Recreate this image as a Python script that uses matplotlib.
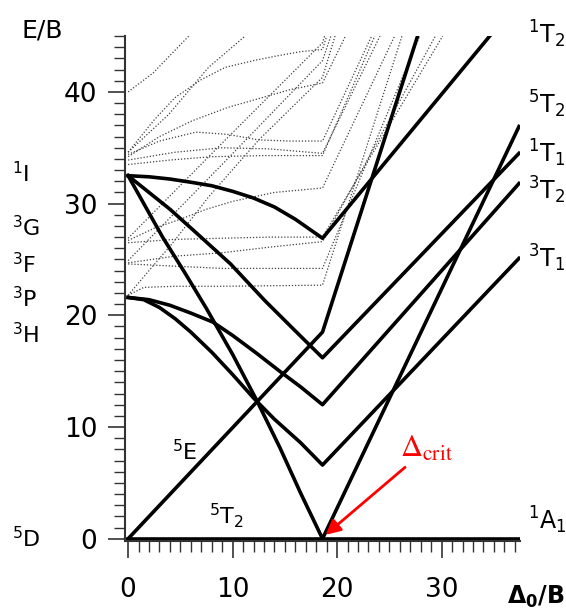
import matplotlib
matplotlib.use('Agg')
import matplotlib.pyplot as plt
from matplotlib.ticker import MultipleLocator
from matplotlib.transforms import blended_transform_factory

# bold states (x = Delta0/B, y = E/B)
gs_x = [0, 37.4]                      # 5T2 / 1A1 ground line
gs_e = [0, 0]

e5_x = [0, 18.6, 27.7]                # 5E, becomes steep after crossover
e5_e = [0, 18.5, 45]

a1_x = [0, 3.3, 5.5, 7.5, 10, 12.3, 14.5, 16.5, 18.6, 37.4]   # 1A1 down, 5T2 up
a1_e = [32.5, 27.0, 23.7, 20.6, 16.5, 12.4, 8.2, 4.1, 0, 36.9]

t12_x = [0, 2, 4, 6.1, 8, 10, 12, 14, 16, 18.6, 34.6]
t12_e = [32.5, 32.4, 32.2, 31.9, 31.6, 31.1, 30.5, 29.7, 28.6, 26.9, 45]

t11_x = [0, 2, 4, 6.5, 9.8, 13.1, 16, 18.6, 37.4]
t11_e = [32.5, 31.0, 29.5, 27.4, 24.6, 21.3, 18.6, 16.2, 34.5]

t32_x = [0, 2, 4, 6, 8.1, 10, 12.3, 14.5, 16.5, 18.6, 37.4]
t32_e = [21.6, 21.4, 20.9, 20.2, 19.4, 18.2, 16.6, 15.0, 13.6, 12.0, 31.8]

t31_x = [0, 1.5, 3, 4.5, 6, 8, 10, 12, 14, 16.5, 18.6, 37.4]
t31_e = [21.6, 21.4, 20.7, 19.7, 18.5, 16.7, 14.7, 12.6, 10.7, 8.6, 6.6, 25.1]

# thin dotted states
dotted_x = [
    [0, 2.4, 5.8],
    [0, 3.9, 7.7, 11.2],
    [0, 2.5, 4.5, 7, 9.3, 12, 14.1, 16.5, 18.6, 19.0],
    [0, 3, 6.1, 9.5, 12.5, 15.5, 18.6, 20.8],
    [0, 3, 6.5, 9.5, 12.5, 15.5, 18.6, 23.3],
    [0, 4.5, 9.0, 13.5, 18.6, 24.1],
    [0, 4, 8.0, 13, 18.6, 23.6],
    [0, 9.3, 18.6, 18.8],
    [0, 9.3, 18.6, 19.4],
    [0, 2, 4.2, 7.7, 12.5, 18.6, 19.8],
    [0, 2.5, 5.0, 7.5, 10.0, 14.0, 18.6, 25.5],
    [0, 4.5, 9.0, 13.5, 18.6, 30.1],
    [0, 4.5, 9.0, 13.5, 18.6, 29.4],
    [0, 4.5, 9.0, 13.5, 18.6, 27.9],
    [0, 1.5, 4.5, 9.0, 18.6, 26.2],
]
dotted_e = [
    [40.0, 41.7, 45],
    [34.6, 38.0, 42.2, 45],
    [34.6, 37.5, 39.5, 41.1, 42.2, 42.8, 43.2, 43.6, 43.8, 45],
    [34.2, 36.0, 37.4, 38.6, 39.4, 40.2, 40.8, 45],
    [34.4, 35.6, 36.4, 36.2, 35.7, 35.6, 35.6, 45],
    [33.9, 34.6, 35.0, 34.9, 34.5, 45],
    [33.5, 33.9, 34.2, 34.3, 34.3, 45],
    [26.9, 35.7, 44.4, 45],
    [24.9, 33.8, 42.8, 45],
    [21.8, 24.0, 26.4, 30.6, 35.7, 41.3, 45],
    [26.7, 27.8, 28.6, 29.5, 30.2, 31.0, 31.4, 45],
    [26.5, 26.8, 26.9, 27.0, 27.0, 45],
    [24.7, 25.3, 25.6, 26.1, 26.6, 45],
    [24.6, 24.4, 24.2, 24.2, 24.2, 45],
    [21.8, 22.5, 22.6, 22.6, 22.7, 45],
]

free_ion_terms = [r'$^{1}\mathrm{I}$', r'$^{3}\mathrm{G}$', r'$^{3}\mathrm{F}$',
                  r'$^{3}\mathrm{P}$', r'$^{3}\mathrm{H}$', r'$^{5}\mathrm{D}$']
free_ion_y = [31.9, 27.1, 23.8, 20.7, 17.5, -0.8]

right_terms = [r'$^{1}\mathrm{T}_{2}$', r'$^{5}\mathrm{T}_{2}$', r'$^{1}\mathrm{T}_{1}$',
               r'$^{3}\mathrm{T}_{2}$', r'$^{3}\mathrm{T}_{1}$', r'$^{1}\mathrm{A}_{1}$']
right_y = [44.3, 38.1, 33.7, 30.4, 24.3, 0.8]

d_crit = 18.6

fig = plt.figure(figsize=(5.66, 6.11), dpi=100)
ax = fig.add_axes([0.2208, 0.1146, 0.698, 0.8264])

for xs, es in zip(dotted_x, dotted_e):
    ax.plot(xs, es, color='0.25', lw=0.9, ls=(0, (1, 1.5)))

for xs, es in [(gs_x, gs_e), (e5_x, e5_e), (a1_x, a1_e), (t12_x, t12_e),
               (t11_x, t11_e), (t32_x, t32_e), (t31_x, t31_e)]:
    ax.plot(xs, es, color='black', lw=2.6)

ax.set_xlim(-0.3, 37.5)
ax.set_ylim(-0.2, 45)

for s in ['top', 'right']:
    ax.spines[s].set_visible(False)
for s in ['left', 'bottom']:
    ax.spines[s].set_linewidth(1.5)
    ax.spines[s].set_color('#333333')

ax.xaxis.set_major_locator(MultipleLocator(10))
ax.xaxis.set_minor_locator(MultipleLocator(1))
ax.yaxis.set_major_locator(MultipleLocator(10))
ax.yaxis.set_minor_locator(MultipleLocator(1))
ax.tick_params(which='major', length=12, width=1.2, labelsize=19, color='#333333')
ax.tick_params(which='minor', length=8, width=1.0, color='#333333')
ax.tick_params(axis='y', which='major', pad=8)
ax.tick_params(axis='x', which='major', pad=14)

# labels
fig.text(22 / 566, 0.938, 'E/B', fontsize=18, ha='left', va='baseline')
fig.text(0.998, 0.012, r'$\mathbf{\Delta_0/B}$', fontsize=17,
         ha='right', va='baseline')

trans = blended_transform_factory(fig.transFigure, ax.transData)
for lab, y in zip(free_ion_terms, free_ion_y):
    ax.text(12 / 566, y, lab, transform=trans, fontsize=16,
            ha='left', va='baseline')

for lab, y in zip(right_terms, right_y):
    ax.text(38.3, y, lab, fontsize=17, ha='left', va='baseline', clip_on=False)

ax.text(4.2, 7.0, r'$^{5}\mathrm{E}$', fontsize=16, ha='left', va='baseline')
ax.text(7.75, 1.4, r'$^{5}\mathrm{T}_{2}$', fontsize=16, ha='left', va='baseline')

ax.text(26.0, 7.3, r'$\Delta_{\mathrm{crit}}$', fontsize=22, color='red',
        math_fontfamily='stix', ha='left', va='baseline')
ax.annotate('', xy=(d_crit + 0.3, 0.35), xytext=(26.5, 6.4),
            arrowprops=dict(arrowstyle='-|>', color='red', lw=2,
                            mutation_scale=22, shrinkA=0, shrinkB=0))

fig.savefig('out.png', dpi=100)
